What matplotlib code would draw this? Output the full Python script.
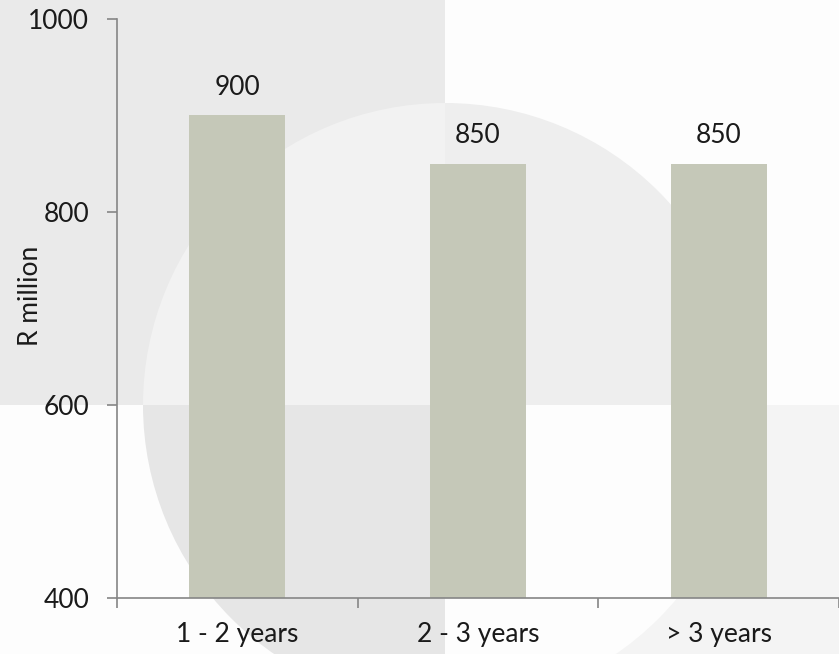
import matplotlib.pyplot as plt
from matplotlib.patches import Rectangle, Circle

categories = ['1 - 2 years', '2 - 3 years', '> 3 years']
values = [900, 850, 850]
y_ticks = [400, 600, 800, 1000]

plt.rcParams['font.family'] = ['Lato', 'DejaVu Sans']

W, H = 839, 654
fig = plt.figure(figsize=(W / 100, H / 100), dpi=100)

# faint watermark behind the chart (pixel coords)
bg = fig.add_axes([0, 0, 1, 1], zorder=0)
bg.set_xlim(0, W)
bg.set_ylim(H, 0)
bg.axis('off')
cx, cy, r = 445, 405, 302
quads = [
    # (x0, y0, w, h, outside colour, inside colour)
    (0, 0, cx, cy, '#eaeaea', '#f2f2f2'),
    (cx, 0, W - cx, cy, '#fdfdfd', '#eeeeee'),
    (0, cy, cx, H - cy, '#fdfdfd', '#e6e6e6'),
    (cx, cy, W - cx, H - cy, '#f4f4f4', '#fdfdfd'),
]
for x0, y0, w, h, out_c, in_c in quads:
    rect = Rectangle((x0, y0), w, h, color=out_c, lw=0)
    bg.add_patch(rect)
    circ = Circle((cx, cy), r, color=in_c, lw=0)
    bg.add_patch(circ)
    circ.set_clip_path(rect)

ax = fig.add_axes([117 / W, 56 / H, 722 / W, 579 / H], zorder=1)
ax.patch.set_alpha(0)

x = range(len(categories))
bars = ax.bar(x, values, width=0.4, color='#c5c8b8', zorder=2)
for b, v in zip(bars, values):
    ax.annotate(str(v), (b.get_x() + b.get_width() / 2, v),
                xytext=(0, 11), textcoords='offset points',
                ha='center', va='bottom', fontsize=19, color='#1a1a1a')

ax.set_xlim(-0.5, 2.5)
ax.set_ylim(400, 1000)
ax.set_yticks(y_ticks)
ax.set_xticks([-0.5, 0.5, 1.5, 2.5])
ax.set_xticklabels([])
ax.set_xticks(list(x), minor=True)
ax.set_xticklabels(categories, minor=True)

for s in ['top', 'right']:
    ax.spines[s].set_visible(False)
for s in ['left', 'bottom']:
    ax.spines[s].set_color('#868686')
    ax.spines[s].set_linewidth(1.2)

ax.tick_params(axis='y', length=7, width=1.2, color='#868686', pad=13,
               labelsize=19, labelcolor='#1a1a1a')
ax.tick_params(axis='x', which='major', length=7, width=1.2, color='#868686')
ax.tick_params(axis='x', which='minor', length=0, pad=17,
               labelsize=19, labelcolor='#1a1a1a')

fig.text(31 / W, 1 - 296 / H, 'R million', rotation=90, ha='center',
         va='center', fontsize=19, color='#1a1a1a')

fig.savefig('out.png', dpi=100)
